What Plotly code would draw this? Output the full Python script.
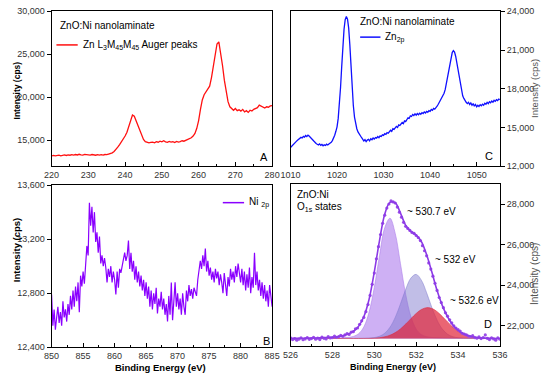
import numpy as np
import plotly.graph_objects as go

# ---------------- DATA ----------------
# Panel A: Zn LMM Auger (x from 220 step 0.5)
A_start, A_step = 220.0, 0.5
A_counts = [13180,13250,13200,13230,13280,13190,13260,13300,13240,13310,13270,13330,13280,13350,13300,13380,13320,13290,13360,13310,
            13340,13280,13350,13300,13270,13340,13290,13330,13280,13350,13330,13400,13450,13550,13700,13900,14200,14500,14800,15150,
            15500,15950,16600,17400,17950,17800,17250,16600,16000,15500,15100,14850,14750,14700,14750,14800,14720,14850,14780,14900,
            14820,14950,14830,14760,14880,14790,14850,14740,14880,14800,14860,14950,14900,15000,15050,15150,15300,15500,15800,16400,
            17300,18600,19700,20300,20600,20900,21300,22300,23800,25200,26200,26450,25300,23700,22000,20500,19500,18900,18650,18500,
            18700,18450,18550,18400,18600,18300,18450,18250,18500,18400,18600,18700,18800,19100,18950,18850,18750,18900,18850,19000,
            19050]

# Panel B: Ni 2p (x from 850 step 0.2)
B_start, B_step = 850.0, 0.2
B_counts = [12790,12560,12680,12530,12620,12700,12580,12660,12560,12740,12620,12680,12590,12720,12640,12780,12680,12820,12700,12850,
            12740,12880,12660,12930,12850,12960,12870,13050,13150,13080,13470,13300,13440,13250,13400,13180,13250,13100,13220,13020,
            13080,13000,13060,12990,12880,12980,12920,13000,12880,12960,12900,12790,12960,12840,12980,12950,12990,13050,13100,13040,
            13080,13190,12980,13100,12960,13040,12900,13000,12880,12960,12850,12930,12820,12900,12780,12880,12760,12850,12700,12820,
            12680,12800,12720,12840,12650,12760,12700,12810,12680,12760,12640,12720,12590,12780,12640,12880,12600,12760,12880,12700,
            12800,12680,12760,12640,12800,12700,12640,12820,12740,12860,12780,12830,12760,12840,12800,12780,12900,12960,13040,12980,
            13080,13000,13130,12960,13040,12930,12990,12900,12960,12880,12980,12910,12960,12860,12940,12880,12800,12950,12870,12780,
            12920,12850,12980,12900,12960,12880,13000,12920,13020,12940,12880,12980,12860,12960,12820,12940,12840,12990,12800,12920,
            12840,13100,12860,12960,12820,12900,12780,12880,12760,12860,12740,12820,12700,12860,12760,12700]

# Panel C: Zn 2p (x from 1010 step 0.25)
C_start, C_step = 1010.0, 0.25
C_counts = [13450,13560,13680,13750,13860,13920,14010,14100,14150,14230,14180,14300,14250,14370,14290,14400,14330,14260,14150,14050,
            13950,13820,13760,13700,13650,13720,13610,13680,13580,13650,13600,13700,13640,13720,13780,13850,13980,14150,14400,14700,
            15050,15700,16700,18100,19700,21300,22600,23350,23600,23400,22700,21400,19600,17900,16700,15800,15250,14900,14650,14480,
            14350,14220,14100,13950,14050,13900,14020,14080,13960,14120,14050,14180,14100,14220,14170,14290,14200,14350,14300,14420,
            14380,14520,14460,14600,14550,14700,14780,14700,14900,14850,15000,15080,15000,15200,15150,15300,15380,15300,15500,15450,
            15650,15750,15700,15900,15850,16000,15920,16050,15950,16080,15980,16100,16020,16150,16080,16200,16120,16250,16180,16300,
            16250,16400,16330,16480,16420,16600,16650,16800,16950,17100,17250,17450,17650,17950,18400,18900,19400,19900,20400,20800,
            20950,20850,20500,20000,19400,18800,18200,17750,17450,17250,17050,16950,16850,16950,16780,16900,16720,16850,16650,16780,
            16600,16720,16620,16760,16680,16800,16720,16880,16800,16950,16850,17000,16920,17050,16960,17100,17020,17150,17080,17200,
            17150]

# Panel D: O 1s raw data (x from 526 step 0.1)
D_start, D_step = 526.0, 0.1
D_raw = [21420,21330,21380,21300,21350,21410,21320,21360,21430,21340,21380,21440,21350,21400,21330,21450,21390,21360,21470,21410,
         21430,21500,21440,21480,21540,21490,21560,21620,21580,21700,21720,21860,21900,22080,22250,22420,22700,23050,23500,24050,
         24600,25300,25900,26500,27050,27450,27800,28000,28150,28100,28050,27850,27600,27350,27100,26900,26800,26700,26600,26550,
         26450,26350,26200,25950,25700,25450,25100,24800,24450,24100,23750,23400,23150,22900,22650,22480,22300,22150,22000,21900,
         21820,21750,21640,21600,21560,21500,21480,21520,21430,21400,21460,21380,21430,21560,21390,21330,21420,21360,21300,21410,
         21350]

# Panel D: fit curves (x from 526 step 0.25)
F_start, F_step = 526.0, 0.25
D_baseline = 21380
D_envelope = [21390,21390,21395,21400,21405,21410,21420,21430,21445,21470,21520,21600,21730,21980,22450,23300,24650,26200,27500,28080,
              28060,27550,26950,26650,26470,26150,25500,24650,23740,23000,22450,22050,21780,21620,21520,21460,21420,21400,21390,21385,
              21380]
D_peak1 = [21390,21391,21393,21395,21397,21399,21402,21404,21407,21413,21420,21439,21484,21615,21952,22672,23888,25452,26830,27302,
           26554,25068,23553,22454,21843,21571,21468,21433,21418,21411,21406,21402,21399,21396,21394,21392,21391,21390,21389,21388,
           21387]
D_peak2 = [21382,21382,21382,21383,21383,21383,21383,21384,21385,21385,21386,21387,21388,21390,21392,21403,21428,21492,21642,21935,
           22420,23082,23800,24359,24537,24252,23634,22911,22285,21847,21595,21471,21420,21400,21391,21389,21388,21387,21386,21385,
           21384]
D_peak3 = [21381,21381,21381,21381,21382,21382,21382,21383,21383,21384,21385,21386,21383,21384,21385,21388,21397,21422,21466,21544,
           21672,21855,22092,22358,22615,22810,22900,22862,22704,22466,22197,21944,21737,21590,21494,21438,21409,21395,21389,21386,
           21385]

# ---------------- FIGURE ----------------
W, H = 550, 380
def px(x): return x / W
def py(y): return 1 - y / H

def grid(start, step, n):
    return start + step * np.arange(n)

FONT = "Liberation Sans, Arial, sans-serif"
fig = go.Figure()

fig.add_trace(go.Scatter(x=grid(A_start, A_step, len(A_counts)), y=A_counts, mode="lines",
                         line=dict(color="#ff1010", width=1.3), xaxis="x", yaxis="y", showlegend=False))
fig.add_trace(go.Scatter(x=grid(B_start, B_step, len(B_counts)), y=B_counts, mode="lines",
                         line=dict(color="#8a00ff", width=1.2), xaxis="x2", yaxis="y2", showlegend=False))
fig.add_trace(go.Scatter(x=grid(C_start, C_step, len(C_counts)), y=C_counts, mode="lines",
                         line=dict(color="#1010ff", width=1.3), xaxis="x3", yaxis="y3", showlegend=False))

fx = grid(F_start, F_step, len(D_envelope))
base = [D_baseline] * len(fx)
comps = [(D_peak1, "rgba(190,150,240,0.75)", "rgba(175,130,235,1)"),
         (D_peak2, "rgba(125,120,205,0.48)", "rgba(125,120,205,0.8)"),
         (D_peak3, "rgba(225,35,55,0.70)", "rgba(225,35,55,0.9)")]
for comp, fc, lc in comps:
    fig.add_trace(go.Scatter(x=fx, y=base, mode="lines", line=dict(width=0, color="rgba(0,0,0,0)"),
                             xaxis="x4", yaxis="y4", showlegend=False, hoverinfo="skip"))
    fig.add_trace(go.Scatter(x=fx, y=comp, mode="lines", fill="tonexty", fillcolor=fc,
                             line=dict(width=0.6, color=lc, shape="spline"),
                             xaxis="x4", yaxis="y4", showlegend=False))
fig.add_trace(go.Scatter(x=grid(D_start, D_step, len(D_raw)), y=D_raw, mode="markers",
                         marker=dict(color="#9a4de8", size=3.2), xaxis="x4", yaxis="y4", showlegend=False))
fig.add_trace(go.Scatter(x=fx, y=D_envelope, mode="lines", line=dict(color="#8c3ae6", width=1.6, shape="spline"),
                         xaxis="x4", yaxis="y4", showlegend=False))

tickfont = dict(family=FONT, size=9, color="#333333")
def xax(domain, anchor, rng, dtick, minor):
    return dict(domain=domain, anchor=anchor, range=rng, dtick=dtick, tick0=rng[0], showgrid=False, zeroline=False,
                showline=True, linecolor="black", linewidth=1, mirror=True, ticks="inside", ticklen=4,
                tickcolor="black", tickfont=tickfont, minor=dict(ticks="inside", ticklen=2, dtick=minor, tickcolor="black"))
def yax(domain, anchor, rng, tick0, dtick, side="left"):
    return dict(domain=domain, anchor=anchor, range=rng, tick0=tick0, dtick=dtick, side=side, showgrid=False,
                zeroline=False, showline=True, linecolor="black", linewidth=1, mirror=True, ticks="outside",
                ticklen=4, tickcolor="black", tickfont=tickfont, tickformat=",d")

xl = [px(43), px(271)]
xr = [px(290), px(506.5)]
yt = [py(165.5), py(6.5)]
yb_l = [py(351.5), py(185)]
yb_r = [py(350.5), py(183.5)]

fig.update_layout(
    width=W, height=H, autosize=False, margin=dict(l=0, r=0, t=0, b=0),
    paper_bgcolor="white", plot_bgcolor="white", font=dict(family=FONT, color="black"),
    hovermode=False,
    xaxis=xax(xl, "y", [220, 280], 10, 5),
    yaxis=yax(yt, "x", [12000, 30000], 15000, 5000),
    xaxis2=xax(xl, "y2", [850, 885], 5, 2.5),
    yaxis2=yax(yb_l, "x2", [12400, 13600], 12400, 400),
    xaxis3=xax(xr, "y3", [1010, 1055], 10, 5),
    yaxis3=yax(yt, "x3", [12000, 24000], 12000, 3000, side="right"),
    xaxis4=xax(xr, "y4", [526, 536], 2, 1),
    yaxis4=yax(yb_r, "x4", [21000, 29000], 22000, 2000, side="right"),
)

ann = []
def text(x, y, s, size=10, color="black", anchor="left", angle=0, bold=False):
    if bold:
        s = "<b>" + s + "</b>"
    ann.append(dict(x=px(x), y=py(y), xref="paper", yref="paper", text=s, showarrow=False,
                    xanchor=anchor, yanchor="middle", textangle=angle,
                    font=dict(family=FONT, size=size, color=color)))

# Panel A
text(50, 21, "ZnO:Ni nanolaminate", 10)
text(73, 41, "Zn L<sub>3</sub>M<sub>45</sub>M<sub>45</sub> Auger peaks", 10)
text(263, 156, "A", 11, anchor="center")
text(7, 88, "Intensity (cps)", 8.5, anchor="center", angle=-90, bold=True)
# Panel B
text(245, 203, "Ni <sub>2p</sub>", 10)
text(265, 345, "B", 11, anchor="center")
text(7, 252, "Intensity (cps)", 9.5, anchor="center", angle=-90, bold=True)
text(156, 372, "Binding Energy (eV)", 9.5, anchor="center", bold=True)
# Panel C
text(360, 17, "ZnO:Ni nanolaminate", 10)
text(386, 33, "Zn<sub>2p</sub>", 10)
text(495, 155, "C", 11, anchor="center")
text(543, 86, "Intensity (cps)", 9.5, color="#555555", anchor="center", angle=-90)
# Panel D
text(295, 195, "ZnO:Ni", 10)
text(295, 207, "O<sub>1s</sub> states", 10)
text(408, 212, "~ 530.7 eV", 10)
text(437, 261, "~ 532 eV", 10)
text(453, 303, "~ 532.6 eV", 10)
text(494, 328, "D", 11, anchor="center")
text(543, 276, "Intensity (cps)", 10, color="#555555", anchor="center", angle=-90)
text(396, 372, "Binding Energy (eV)", 9, anchor="center", bold=True)
fig.update_layout(annotations=ann)

# legend swatches
shapes = []
for (x0, x1, y, c) in [(48, 70, 41, "#ff1010"), (220, 242, 203, "#8a00ff"), (362, 383, 33, "#1010ff")]:
    shapes.append(dict(type="line", xref="paper", yref="paper", x0=px(x0), x1=px(x1), y0=py(y), y1=py(y),
                       line=dict(color=c, width=1.5)))
fig.update_layout(shapes=shapes)

fig.write_html("out.html", config={"displayModeBar": False, "staticPlot": True},
               post_script="document.body.style.margin='0px';document.body.style.padding='0px';")
